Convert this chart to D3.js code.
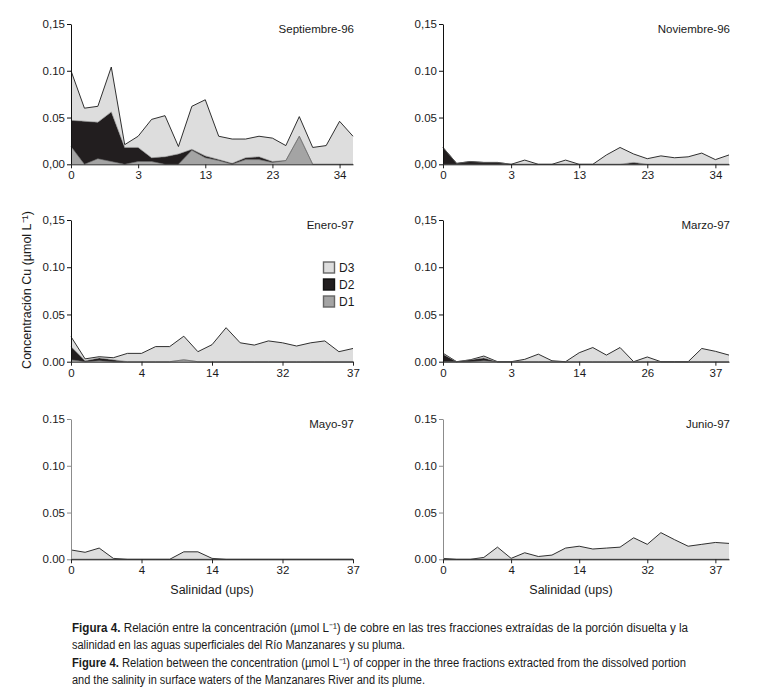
<!DOCTYPE html>
<html>
<head>
<meta charset="utf-8">
<script src="https://cdn.jsdelivr.net/npm/d3@7"></script>
<style>
  html, body { margin: 0; padding: 0; background: #fff; }
  svg { display: block; }
  text { font-family: "Liberation Sans Narrow", "Arial Narrow", "Liberation Sans", Arial, sans-serif; fill: #1a1a1a; }
</style>
</head>
<body>
<svg id="chart" width="761" height="693"></svg>
<script>
// ---------------- DATA ----------------
const fractionKeys = ["D1", "D2", "D3"];
const panelTitles = ["Septiembre-96", "Noviembre-96", "Enero-97", "Marzo-97", "Mayo-97", "Junio-97"];

// Septiembre-96 (22 stations)
const sep96_D1 = [0.019, 0.000, 0.006, 0.003, 0.000, 0.003, 0.003, 0.000, 0.000, 0.015, 0.007, 0.004, 0.000, 0.005, 0.005, 0.002, 0.004, 0.030, 0.000, 0.000, 0.000, 0.000];
const sep96_D2 = [0.028, 0.046, 0.039, 0.053, 0.018, 0.015, 0.004, 0.008, 0.011, 0.001, 0.002, 0.001, 0.001, 0.002, 0.003, 0.001, 0.000, 0.000, 0.000, 0.000, 0.000, 0.000];
const sep96_D3 = [0.053, 0.014, 0.017, 0.048, 0.003, 0.012, 0.041, 0.044, 0.008, 0.046, 0.060, 0.025, 0.026, 0.020, 0.022, 0.025, 0.016, 0.021, 0.018, 0.020, 0.046, 0.030];
const sep96_xLabels = ["0", "3", "13", "23", "34"];

// Noviembre-96 (22 stations)
const nov96_D1 = [0.000, 0.000, 0.000, 0.000, 0.000, 0.000, 0.000, 0.000, 0.000, 0.000, 0.000, 0.000, 0.000, 0.000, 0.000, 0.000, 0.000, 0.000, 0.000, 0.000, 0.000, 0.000];
const nov96_D2 = [0.018, 0.001, 0.003, 0.002, 0.002, 0.000, 0.000, 0.000, 0.000, 0.000, 0.000, 0.000, 0.000, 0.000, 0.002, 0.000, 0.000, 0.000, 0.000, 0.000, 0.000, 0.000];
const nov96_D3 = [0.000, 0.000, 0.000, 0.000, 0.000, 0.000, 0.0045, 0.000, 0.000, 0.0045, 0.000, 0.000, 0.010, 0.018, 0.009, 0.006, 0.009, 0.007, 0.008, 0.012, 0.005, 0.010];
const nov96_xLabels = ["0", "3", "13", "23", "34"];

// Enero-97 (21 stations)
const ene97_D1 = [0.002, 0.000, 0.001, 0.000, 0.000, 0.000, 0.000, 0.000, 0.002, 0.000, 0.000, 0.000, 0.000, 0.000, 0.000, 0.000, 0.000, 0.000, 0.000, 0.000, 0.000];
const ene97_D2 = [0.014, 0.001, 0.003, 0.002, 0.000, 0.000, 0.000, 0.000, 0.000, 0.000, 0.000, 0.000, 0.000, 0.000, 0.000, 0.000, 0.000, 0.000, 0.000, 0.000, 0.000];
const ene97_D3 = [0.0105, 0.002, 0.0013, 0.0022, 0.0088, 0.0088, 0.016, 0.016, 0.025, 0.0106, 0.018, 0.036, 0.020, 0.0176, 0.022, 0.020, 0.0166, 0.020, 0.022, 0.0106, 0.014];
const ene97_xLabels = ["0", "4", "14", "32", "37"];

// Marzo-97 (22 stations)
const mar97_D1 = [0.000, 0.000, 0.000, 0.001, 0.000, 0.000, 0.000, 0.000, 0.000, 0.000, 0.000, 0.000, 0.000, 0.000, 0.000, 0.000, 0.000, 0.000, 0.000, 0.000, 0.000, 0.000];
const mar97_D2 = [0.008, 0.000, 0.002, 0.003, 0.000, 0.000, 0.000, 0.000, 0.000, 0.000, 0.000, 0.000, 0.000, 0.000, 0.000, 0.000, 0.000, 0.000, 0.000, 0.000, 0.000, 0.000];
const mar97_D3 = [0.001, 0.000, 0.000, 0.002, 0.000, 0.000, 0.0025, 0.008, 0.001, 0.000, 0.0095, 0.015, 0.007, 0.015, 0.000, 0.005, 0.000, 0.000, 0.000, 0.014, 0.011, 0.007];
const mar97_xLabels = ["0", "3", "14", "26", "37"];

// Mayo-97 (21 stations)
const may97_D1 = [0.000, 0.000, 0.000, 0.000, 0.000, 0.000, 0.000, 0.000, 0.000, 0.000, 0.000, 0.000, 0.000, 0.000, 0.000, 0.000, 0.000, 0.000, 0.000, 0.000, 0.000];
const may97_D2 = [0.000, 0.000, 0.000, 0.000, 0.000, 0.000, 0.000, 0.000, 0.000, 0.000, 0.000, 0.000, 0.000, 0.000, 0.000, 0.000, 0.000, 0.000, 0.000, 0.000, 0.000];
const may97_D3 = [0.010, 0.0075, 0.012, 0.001, 0.000, 0.000, 0.000, 0.000, 0.008, 0.008, 0.001, 0.000, 0.000, 0.000, 0.000, 0.000, 0.000, 0.000, 0.000, 0.000, 0.000];
const may97_xLabels = ["0", "4", "14", "32", "37"];

// Junio-97 (22 stations)
const jun97_D1 = [0.000, 0.000, 0.000, 0.000, 0.000, 0.000, 0.000, 0.000, 0.000, 0.000, 0.000, 0.000, 0.000, 0.000, 0.000, 0.000, 0.000, 0.000, 0.000, 0.000, 0.000, 0.000];
const jun97_D2 = [0.000, 0.000, 0.000, 0.000, 0.000, 0.000, 0.000, 0.000, 0.000, 0.000, 0.000, 0.000, 0.000, 0.000, 0.000, 0.000, 0.000, 0.000, 0.000, 0.000, 0.000, 0.000];
const jun97_D3 = [0.001, 0.000, 0.000, 0.002, 0.013, 0.001, 0.007, 0.003, 0.0045, 0.012, 0.014, 0.011, 0.012, 0.013, 0.023, 0.016, 0.0285, 0.021, 0.014, 0.016, 0.018, 0.017];
const jun97_xLabels = ["0", "4", "14", "32", "37"];

const xTickIndex = [0, 5, 10, 15, 20];
const yTickValues = [0, 0.05, 0.10, 0.15];
const yLabelsTop = ["0,00", "0.05", "0.10", "0,15"];
const yLabelsMid = ["0.00", "0.05", "0.10", "0,15"];
const yLabelsBottom = ["0.00", "0.05", "0.10", "0.15"];

const legendLabels = ["D3", "D2", "D1"];

// ---------------- LAYOUT / STYLE ----------------
const colors = { D1: "#a4a4a4", D2: "#221e1f", D3: "#dddddd" };
const lineColors = { D1: "#5a5a5a", D2: "#777777", D3: "#1a1a1a" };
const cols = [{ x0: 71, x1: 353 }, { x0: 443, x1: 729 }];
const rows = [{ top: 24, bottom: 164.3 }, { top: 220, bottom: 361.7 }, { top: 419, bottom: 559.3 }];

const panels = [
  { title: panelTitles[0], D1: sep96_D1, D2: sep96_D2, D3: sep96_D3, xl: sep96_xLabels, yl: yLabelsTop, c: 0, r: 0 },
  { title: panelTitles[1], D1: nov96_D1, D2: nov96_D2, D3: nov96_D3, xl: nov96_xLabels, yl: yLabelsTop, c: 1, r: 0 },
  { title: panelTitles[2], D1: ene97_D1, D2: ene97_D2, D3: ene97_D3, xl: ene97_xLabels, yl: yLabelsMid, c: 0, r: 1 },
  { title: panelTitles[3], D1: mar97_D1, D2: mar97_D2, D3: mar97_D3, xl: mar97_xLabels, yl: yLabelsMid, c: 1, r: 1 },
  { title: panelTitles[4], D1: may97_D1, D2: may97_D2, D3: may97_D3, xl: may97_xLabels, yl: yLabelsBottom, c: 0, r: 2 },
  { title: panelTitles[5], D1: jun97_D1, D2: jun97_D2, D3: jun97_D3, xl: jun97_xLabels, yl: yLabelsBottom, c: 1, r: 2 }
];

const svg = d3.select("#chart");
const stack = d3.stack().keys(fractionKeys);

panels.forEach(p => {
  const col = cols[p.c], row = rows[p.r];
  const n = p.D3.length;
  const table = d3.range(n).map(i => ({ i: i, D1: p.D1[i], D2: p.D2[i], D3: p.D3[i] }));
  const series = stack(table);

  const x = d3.scaleLinear().domain([0, n - 1]).range([col.x0, col.x1]);
  const y = d3.scaleLinear().domain([0, 0.15]).range([row.bottom, row.top]);

  const g = svg.append("g");

  const area = d3.area().x(d => x(d.data.i)).y0(d => y(d[0])).y1(d => y(d[1]));
  const line = d3.line().x(d => x(d.data.i)).y(d => y(d[1]));

  g.selectAll("path.area").data(series).join("path")
    .attr("class", "area")
    .attr("d", area)
    .attr("fill", s => colors[s.key])
    .attr("stroke", "none");
  g.selectAll("path.edge").data(series.slice().reverse()).join("path")
    .attr("class", "edge")
    .attr("d", line)
    .attr("fill", "none")
    .attr("stroke", s => lineColors[s.key])
    .attr("stroke-width", s => s.key === "D3" ? 0.9 : 0.6);

  const axisColor = p.r === 2 ? "#8c8c8c" : "#111";

  // Y axis
  const ya = g.append("g").attr("transform", `translate(${col.x0},0)`)
    .call(d3.axisLeft(y).tickValues(yTickValues).tickSize(4).tickSizeOuter(0).tickPadding(2)
      .tickFormat((d, i) => p.yl[i]));
  ya.select(".domain").attr("stroke", axisColor).attr("stroke-width", 1);
  ya.selectAll(".tick line").attr("stroke", axisColor);
  ya.selectAll(".tick text").attr("font-size", 11.5).attr("fill", "#1a1a1a")
    .style("font-family", '"Liberation Sans", Arial, sans-serif');

  // X axis
  const xa = g.append("g").attr("transform", `translate(0,${row.bottom})`)
    .call(d3.axisBottom(x).tickValues(xTickIndex).tickSize(4).tickSizeOuter(0).tickPadding(3)
      .tickFormat((d, i) => p.xl[i]));
  xa.select(".domain").attr("stroke", "#222").attr("stroke-width", 1);
  xa.selectAll(".tick line").attr("stroke", "#222");
  xa.selectAll(".tick text").attr("font-size", 11.5).attr("fill", "#1a1a1a")
    .style("font-family", '"Liberation Sans", Arial, sans-serif');

  // Title
  g.append("text").attr("x", col.x1 + 1).attr("y", row.top + 9)
    .attr("text-anchor", "end").attr("font-size", 11.5).text(p.title);
});

// Legend (inside Enero-97 panel)
const legend = svg.append("g");
const legendY = d3.scalePoint().domain(legendLabels).range([267.5, 301.5]);
legendLabels.forEach(k => {
  legend.append("rect")
    .attr("x", 323.5).attr("y", legendY(k) - 5.5).attr("width", 11).attr("height", 11)
    .attr("fill", colors[k]).attr("stroke", k === "D2" ? "#111" : "#666").attr("stroke-width", 1.4);
  legend.append("text").attr("x", 339).attr("y", legendY(k) + 4.5)
    .attr("font-size", 12).text(k);
});

// Y axis label
svg.append("text")
  .attr("transform", "translate(31,290) rotate(-90)")
  .attr("text-anchor", "middle").attr("font-size", 12.5)
  .text("Concentración Cu (µmol L⁻¹)");

// X axis labels
[212, 571].forEach(cx => {
  svg.append("text").attr("x", cx).attr("y", 594).attr("text-anchor", "middle")
    .attr("font-size", 12.5).text("Salinidad (ups)");
});

// Caption
const capX = 72;
function capLine(yb, target, boldPart, rest) {
  const t = svg.append("text").attr("x", capX).attr("y", yb).attr("font-size", 12);
  if (boldPart) t.append("tspan").attr("font-weight", "bold").text(boldPart);
  t.append("tspan").text(rest);
  t.attr("textLength", target).attr("lengthAdjust", "spacingAndGlyphs");
}
capLine(632, 616, "Figura 4.", " Relación entre la concentración (µmol L⁻¹) de cobre en las tres fracciones extraídas de la porción disuelta y la");
capLine(649, 333, null, "salinidad en las aguas superficiales del Río Manzanares y su pluma.");
capLine(667, 614, "Figure 4.", " Relation between the concentration (µmol L⁻¹) of copper in the three fractions extracted from the dissolved portion");
capLine(684, 353, null, "and the salinity in surface waters of the Manzanares River and its plume.");
</script>
</body>
</html>
